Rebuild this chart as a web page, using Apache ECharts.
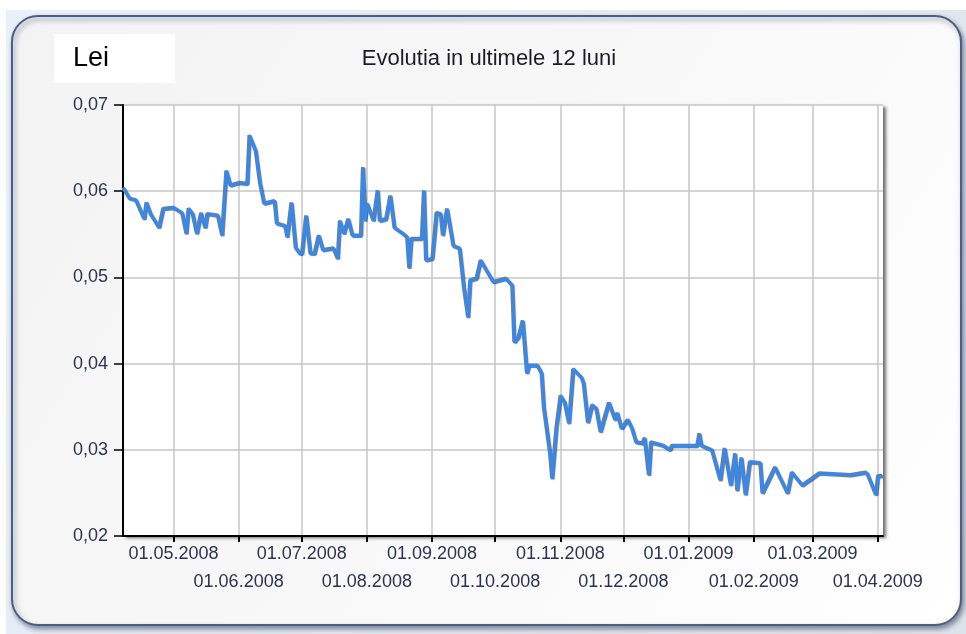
<!DOCTYPE html>
<html>
<head>
<meta charset="utf-8">
<script src="https://cdn.jsdelivr.net/npm/echarts@6/dist/echarts.min.js"></script>
<style>
  html, body { margin: 0; padding: 0; background: #fff; }
  #chart { width: 966px; height: 634px; }
</style>
</head>
<body>
<div id="chart"></div>
<script>
// daily rate
const dates = [
  '2008-04-07', '2008-04-10', '2008-04-13', '2008-04-17', '2008-04-18', '2008-04-20', '2008-04-24', '2008-04-26',
  '2008-05-01', '2008-05-05', '2008-05-07', '2008-05-08', '2008-05-10', '2008-05-12', '2008-05-14', '2008-05-16',
  '2008-05-17', '2008-05-22', '2008-05-24', '2008-05-26', '2008-05-28',
  '2008-06-01', '2008-06-05', '2008-06-06', '2008-06-09', '2008-06-11', '2008-06-13', '2008-06-18', '2008-06-19',
  '2008-06-23', '2008-06-24', '2008-06-26', '2008-06-28', '2008-06-30',
  '2008-07-01', '2008-07-03', '2008-07-05', '2008-07-07', '2008-07-09', '2008-07-11', '2008-07-16', '2008-07-18',
  '2008-07-19', '2008-07-21', '2008-07-23', '2008-07-25', '2008-07-29', '2008-07-30', '2008-07-31',
  '2008-08-01', '2008-08-04', '2008-08-06', '2008-08-07', '2008-08-10', '2008-08-12', '2008-08-14', '2008-08-18',
  '2008-08-20', '2008-08-21', '2008-08-22', '2008-08-27', '2008-08-28', '2008-08-29',
  '2008-09-01', '2008-09-03', '2008-09-05', '2008-09-06', '2008-09-08', '2008-09-11', '2008-09-14', '2008-09-16',
  '2008-09-18', '2008-09-19', '2008-09-22', '2008-09-24', '2008-09-30',
  '2008-10-06', '2008-10-09', '2008-10-10', '2008-10-12', '2008-10-14', '2008-10-16', '2008-10-17', '2008-10-21',
  '2008-10-23', '2008-10-24', '2008-10-27', '2008-10-28', '2008-10-30',
  '2008-11-01', '2008-11-03', '2008-11-05', '2008-11-07', '2008-11-11', '2008-11-12', '2008-11-14', '2008-11-16',
  '2008-11-18', '2008-11-20', '2008-11-22', '2008-11-24', '2008-11-27', '2008-11-28', '2008-11-30',
  '2008-12-03', '2008-12-05', '2008-12-07', '2008-12-10', '2008-12-11', '2008-12-13', '2008-12-14', '2008-12-20',
  '2008-12-23', '2008-12-24',
  '2009-01-05', '2009-01-06', '2009-01-07', '2009-01-12', '2009-01-16', '2009-01-18', '2009-01-21', '2009-01-23',
  '2009-01-24', '2009-01-26', '2009-01-28', '2009-01-30',
  '2009-02-04', '2009-02-05', '2009-02-11', '2009-02-17', '2009-02-19', '2009-02-24',
  '2009-03-04', '2009-03-19', '2009-03-26', '2009-03-27', '2009-03-31',
  '2009-04-01', '2009-04-03'
];
const rates = [
  0.0604, 0.0592, 0.0590, 0.0568, 0.0587, 0.0574, 0.0558, 0.0580,
  0.0581, 0.0575, 0.0551, 0.0580, 0.0574, 0.0551, 0.0575, 0.0558,
  0.0574, 0.0572, 0.0549, 0.0624, 0.0607,
  0.0610, 0.0609, 0.0665, 0.0647, 0.0610, 0.0586, 0.0589, 0.0563,
  0.0560, 0.0547, 0.0587, 0.0535, 0.0528,
  0.0528, 0.0572, 0.0528, 0.0528, 0.0549, 0.0532, 0.0534, 0.0522,
  0.0566, 0.0551, 0.0568, 0.0549, 0.0549, 0.0628, 0.0566,
  0.0586, 0.0566, 0.0601, 0.0566, 0.0568, 0.0595, 0.0558, 0.0551,
  0.0547, 0.0511, 0.0545, 0.0545, 0.0601, 0.0520,
  0.0522, 0.0575, 0.0574, 0.0549, 0.0580, 0.0537, 0.0534, 0.0489,
  0.0454, 0.0497, 0.0499, 0.0520, 0.0495,
  0.0499, 0.0491, 0.0425, 0.0431, 0.0450, 0.0389, 0.0398, 0.0398,
  0.0389, 0.0350, 0.0296, 0.0267, 0.0326,
  0.0363, 0.0355, 0.0331, 0.0394, 0.0384, 0.0377, 0.0332, 0.0352,
  0.0348, 0.0321, 0.0338, 0.0355, 0.0335, 0.0343, 0.0325,
  0.0335, 0.0325, 0.0309, 0.0308, 0.0314, 0.0271, 0.0309, 0.0305,
  0.0300, 0.0305,
  0.0305, 0.0319, 0.0305, 0.0300, 0.0265, 0.0302, 0.0259, 0.0296,
  0.0253, 0.0291, 0.0248, 0.0286,
  0.0285, 0.0250, 0.0280, 0.0250, 0.0274, 0.0259,
  0.0273, 0.0271, 0.0274, 0.0272, 0.0248,
  0.0270, 0.0270
];
// month starts shown on the x axis
const monthTicks = [
  '2008-05-01', '2008-06-01', '2008-07-01', '2008-08-01', '2008-09-01', '2008-10-01',
  '2008-11-01', '2008-12-01', '2009-01-01', '2009-02-01', '2009-03-01', '2009-04-01'
];
const yTicks = [0.02, 0.03, 0.04, 0.05, 0.06, 0.07];
const titleText = 'Evolutia in ultimele 12 luni';
const unitText = 'Lei';

function toTime(s) {
  const p = s.split('-').map(Number);
  return new Date(p[0], p[1] - 1, p[2]).getTime();
}
function pad(n) { return n < 10 ? '0' + n : '' + n; }
function fmtDate(val) {
  const d = new Date(val);
  return pad(d.getDate()) + '.' + pad(d.getMonth() + 1) + '.' + d.getFullYear();
}

const tickTimes = monthTicks.map(toTime);
// labels alternate between two rows
const upperRow = tickTimes.filter((t, i) => i % 2 === 0);
const lowerRow = tickTimes.filter((t, i) => i % 2 === 1);
const seriesData = dates.map((d, i) => [toTime(d), rates[i]]);

const xMin = toTime('2008-04-07');
const xMax = toTime('2009-04-03') + 12 * 3600 * 1000;
const labelColor = '#2b3350';

const chart = echarts.init(document.getElementById('chart'));

const option = {
  animation: false,
  textStyle: { fontFamily: 'Liberation Sans, Arial, sans-serif' },
  graphic: [
    {
      type: 'rect', z: -20, silent: true,
      shape: { x: 6, y: 10, width: 960, height: 624 },
      style: {
        fill: new echarts.graphic.LinearGradient(0, 0, 1, 1, [
          { offset: 0, color: '#e8f1fa' },
          { offset: 1, color: '#dde3ea' }
        ])
      }
    },
    {
      type: 'rect', z: -19, silent: true,
      shape: { x: 12, y: 16, width: 949, height: 609, r: 26 },
      style: {
        fill: new echarts.graphic.LinearGradient(0, 0, 1, 1, [
          { offset: 0, color: '#f3f3f3' },
          { offset: 0.6, color: '#f9f9f9' },
          { offset: 1, color: '#ffffff' }
        ]),
        stroke: '#4b5f86',
        lineWidth: 2,
        shadowBlur: 5,
        shadowOffsetX: 2,
        shadowOffsetY: 3,
        shadowColor: 'rgba(40,50,70,0.5)'
      }
    },
    {
      type: 'rect', z: -18, silent: true,
      shape: { x: 54, y: 34, width: 121, height: 49 },
      style: { fill: '#ffffff' }
    },
    {
      type: 'text', z: 5, silent: true,
      x: 73, y: 59,
      style: {
        text: unitText,
        font: '27px "Liberation Sans", Arial, sans-serif',
        fill: '#000',
        textVerticalAlign: 'middle'
      }
    },
    {
      type: 'text', z: 5, silent: true,
      x: 489, y: 59,
      style: {
        text: titleText,
        font: '22px "Liberation Sans", Arial, sans-serif',
        fill: '#1c1c24',
        textAlign: 'center',
        textVerticalAlign: 'middle'
      }
    }
  ],
  grid: {
    left: 123, right: 83, top: 105, bottom: 98,
    outerBoundsMode: 'none',
    show: true,
    backgroundColor: '#ffffff',
    borderWidth: 0,
    shadowColor: 'rgba(0,0,0,0.55)',
    shadowBlur: 3,
    shadowOffsetX: 3,
    shadowOffsetY: 2
  },
  xAxis: [
    {
      type: 'value',
      min: xMin,
      max: xMax,
      axisLine: { show: true, onZero: false, lineStyle: { color: '#000', width: 2 } },
      axisTick: { show: true, length: 6, customValues: tickTimes, lineStyle: { color: '#000', width: 2 } },
      splitLine: { show: true, lineStyle: { color: '#c6c6c6', width: 1.5 } },
      axisLabel: {
        customValues: upperRow,
        margin: 9,
        color: labelColor,
        fontSize: 18,
        hideOverlap: false,
        formatter: fmtDate
      }
    },
    {
      type: 'value',
      position: 'bottom',
      offset: 0,
      min: xMin,
      max: xMax,
      axisLine: { show: false, onZero: false },
      axisTick: { show: false },
      splitLine: { show: false },
      axisLabel: {
        customValues: lowerRow,
        margin: 37,
        color: labelColor,
        fontSize: 18,
        hideOverlap: false,
        formatter: fmtDate
      }
    }
  ],
  yAxis: {
    type: 'value',
    min: yTicks[0],
    max: yTicks[yTicks.length - 1],
    interval: 0.01,
    axisLine: { show: true, lineStyle: { color: '#000', width: 2 } },
    axisTick: { show: true, length: 9, lineStyle: { color: '#000', width: 1.5 } },
    splitLine: { show: true, lineStyle: { color: '#c6c6c6', width: 1.5 } },
    axisLabel: {
      margin: 15,
      color: labelColor,
      fontSize: 18,
      formatter: function (v) { return v.toFixed(2).replace('.', ','); }
    }
  },
  series: [
    {
      type: 'line',
      xAxisIndex: 0,
      data: seriesData,
      showSymbol: false,
      symbol: 'none',
      lineStyle: {
        color: '#3c87e2',
        width: 3.5,
        shadowColor: 'rgba(0,0,0,0.55)',
        shadowBlur: 1,
        shadowOffsetX: 1,
        shadowOffsetY: 1
      }
    }
  ]
};

chart.setOption(option);
</script>
</body>
</html>
